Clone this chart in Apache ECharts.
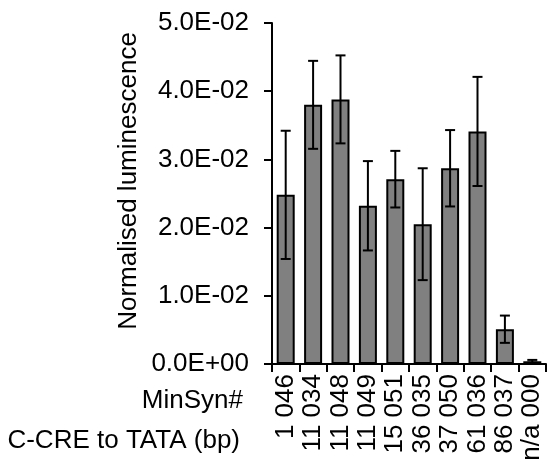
<!DOCTYPE html>
<html>
<head>
<meta charset="utf-8">
<script src="https://cdn.jsdelivr.net/npm/echarts@6/dist/echarts.min.js"></script>
<style>
  html, body { margin: 0; padding: 0; background: #fff; }
  #chart { width: 549px; height: 467px; }
</style>
</head>
<body>
<div id="chart"></div>
<script>
// category pieces (two label rows, rotated)
const cCreToTata = ['1', '11', '11', '11', '15', '36', '37', '61', '86', 'n/a'];
const minSyn = ['046', '034', '048', '049', '051', '035', '050', '036', '037', '000'];
// mean normalised luminescence and error (+/-)
const means = [0.0248, 0.0380, 0.0388, 0.0232, 0.0271, 0.0205, 0.0287, 0.0341, 0.0051, 0.0004];
const errs = [0.0094, 0.00645, 0.00645, 0.00655, 0.00415, 0.0082, 0.0056, 0.0080, 0.0020, 0.0002];
const yTickLabels = ['0.0E+00', '1.0E-02', '2.0E-02', '3.0E-02', '4.0E-02', '5.0E-02'];

const categories = cCreToTata.map((c, i) => c + ' ' + minSyn[i]);
const errData = means.map((m, i) => [i, m - errs[i], m + errs[i]]);

const font = '"Liberation Sans", Arial, sans-serif';

const option = {
  backgroundColor: '#fff',
  animation: false,
  textStyle: { fontFamily: font },
  grid: { left: 272, right: 3, top: 23, bottom: 103 },
  xAxis: {
    type: 'category',
    data: categories,
    axisLine: { lineStyle: { color: '#000', width: 2 } },
    axisTick: { show: true, interval: 0, length: 8, lineStyle: { color: '#000', width: 2 } },
    axisLabel: {
      interval: 0,
      rotate: 90,
      margin: 10,
      color: '#000',
      fontSize: 26,
      fontFamily: font,
    },
  },
  yAxis: {
    type: 'value',
    min: 0,
    max: 0.05,
    interval: 0.01,
    name: 'Normalised luminescence',
    nameLocation: 'middle',
    nameGap: 130,
    nameTextStyle: { color: '#000', fontSize: 26, fontFamily: font, padding: [0, 0, 0, 25] },
    axisLine: { show: true, lineStyle: { color: '#000', width: 2 } },
    axisTick: { show: true, length: 8, lineStyle: { color: '#000', width: 2 } },
    splitLine: { show: false },
    axisLabel: {
      margin: 23,
      color: '#000',
      fontSize: 26,
      fontFamily: font,
      formatter: (v) => yTickLabels[Math.round(v / 0.01)],
    },
  },
  graphic: [
    {
      type: 'text',
      right: 549 - 243,
      top: 388,
      style: { text: 'MinSyn#', fill: '#000', font: '26px ' + font },
    },
    {
      type: 'text',
      right: 549 - 240,
      top: 428,
      style: { text: 'C-CRE to TATA (bp)', fill: '#000', font: '26px ' + font },
    },
  ],
  series: [
    {
      type: 'bar',
      data: means,
      barWidth: 18,
      itemStyle: { color: '#808080', borderColor: '#000', borderWidth: 2 },
    },
    {
      type: 'custom',
      data: errData,
      z: 5,
      renderItem: (params, api) => {
        const lo = api.coord([api.value(0), api.value(1)]);
        const hi = api.coord([api.value(0), api.value(2)]);
        const hw = 5;
        const style = { stroke: '#000', lineWidth: 2 };
        return {
          type: 'group',
          children: [
            { type: 'line', shape: { x1: hi[0], y1: hi[1], x2: lo[0], y2: lo[1] }, style },
            { type: 'line', shape: { x1: hi[0] - hw, y1: hi[1], x2: hi[0] + hw, y2: hi[1] }, style },
            { type: 'line', shape: { x1: lo[0] - hw, y1: lo[1], x2: lo[0] + hw, y2: lo[1] }, style },
          ],
        };
      },
    },
  ],
};

const chart = echarts.init(document.getElementById('chart'));
chart.setOption(option);
</script>
</body>
</html>
